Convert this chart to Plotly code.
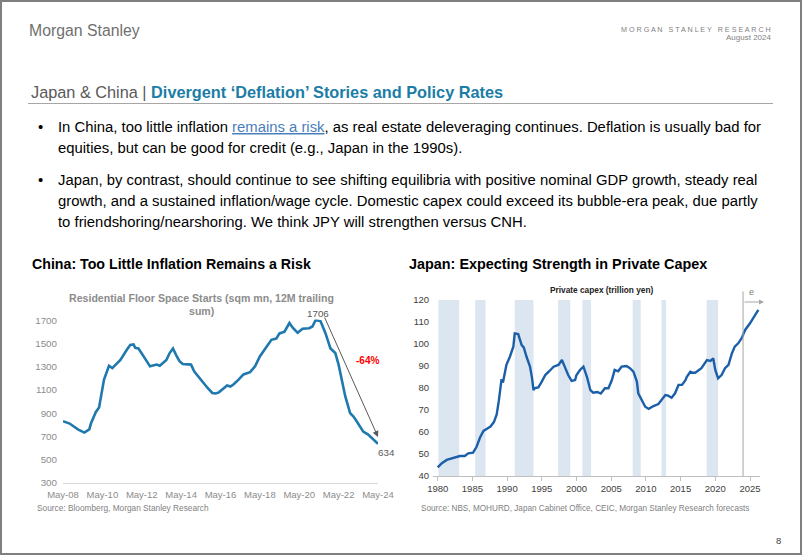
import plotly.graph_objects as go

W, H = 802, 555
def PX(x): return x / W
def PY(y): return 1 - y / H

# ---- China data: residential floor space starts (sqm mn, 12M trailing sum)
cn_dates = ["2008-05", "2008-09", "2009-02", "2009-06", "2009-09", "2009-10", "2010-01", "2010-03",
            "2010-06", "2010-09", "2010-11", "2011-04", "2011-08", "2011-10", "2011-12", "2012-01",
            "2012-03", "2012-06", "2012-08", "2012-10", "2012-12", "2013-02", "2013-04", "2013-06",
            "2013-08", "2013-10", "2013-12", "2014-02", "2014-04", "2014-06", "2014-09", "2014-11",
            "2015-01", "2015-04", "2015-07", "2015-09", "2015-12", "2016-02", "2016-04", "2016-06",
            "2016-09", "2016-11", "2017-01", "2017-04", "2017-07", "2017-11", "2018-02", "2018-05",
            "2018-09", "2018-12", "2019-03", "2019-05", "2019-08", "2019-11", "2020-01", "2020-04",
            "2020-07", "2020-11", "2021-01", "2021-03", "2021-06", "2021-09", "2021-12", "2022-03",
            "2022-05", "2022-08", "2022-09", "2022-12", "2023-02", "2023-04", "2023-08", "2023-11",
            "2024-02", "2024-05"]
cn_values = [830, 810, 760, 732, 760, 810, 910, 950,
             1190, 1310, 1290, 1360, 1450, 1490, 1495, 1465,
             1460, 1400, 1350, 1305, 1310, 1320, 1310, 1335,
             1360, 1420, 1460, 1400, 1350, 1325, 1325, 1320,
             1260, 1205, 1160, 1120, 1075, 1070, 1080, 1105,
             1140, 1130, 1150, 1190, 1235, 1255, 1305, 1390,
             1475, 1535, 1545, 1590, 1605, 1680, 1640, 1595,
             1630, 1635, 1650, 1706, 1695, 1590, 1460, 1420,
             1320, 1130, 1047, 900, 870, 830, 740, 715,
             670, 634]
cn_xticks = ["2008-05-01", "2010-05-01", "2012-05-01", "2014-05-01", "2016-05-01",
             "2018-05-01", "2020-05-01", "2022-05-01", "2024-05-01"]
cn_xlabels = ["May-08", "May-10", "May-12", "May-14", "May-16", "May-18", "May-20", "May-22", "May-24"]
cn_yticks = [300, 500, 700, 900, 1100, 1300, 1500, 1700]

# ---- Japan data: private capex (trillion yen)
jp_years = [1980.0, 1980.6, 1981.3, 1982.0, 1982.7, 1983.2, 1983.9, 1984.4, 1985.1, 1985.6,
            1986.1, 1986.6, 1987.1, 1987.6, 1988.1, 1988.5, 1988.8, 1989.0, 1989.2, 1989.4,
            1989.9, 1990.4, 1990.9, 1991.1, 1991.6, 1992.1, 1992.4, 1992.8, 1993.3, 1993.6,
            1993.8, 1994.0, 1994.5, 1995.0, 1995.5, 1996.0, 1996.7, 1997.4, 1997.9, 1998.3,
            1998.8, 1999.3, 1999.8, 2000.0, 2000.5, 2001.0, 2001.5, 2002.0, 2002.4, 2003.0,
            2003.5, 2004.1, 2004.6, 2005.1, 2005.5, 2006.0, 2006.5, 2007.2, 2007.7, 2008.2,
            2008.7, 2008.9, 2009.4, 2009.9, 2010.4, 2011.1, 2011.8, 2012.3, 2012.8, 2013.2,
            2013.7, 2014.2, 2014.7, 2015.2, 2015.7, 2015.9, 2016.4, 2016.8, 2017.1, 2018.0,
            2018.5, 2018.8, 2019.3, 2019.7, 2020.0, 2020.4, 2020.9, 2021.4, 2021.9, 2022.4,
            2022.8, 2023.3, 2023.8, 2024.3, 2025.0, 2025.7, 2026.2]
jp_values = [43.9, 45.8, 47.3, 48.0, 48.5, 49.1, 49.1, 50.3, 50.6, 53.3,
             57.5, 60.5, 61.5, 62.5, 64.5, 68.0, 74.0, 80.0, 84.0, 82.5,
             90.5, 94.2, 98.8, 104.8, 104.5, 99.5, 98.5, 94.2, 89.7, 84.4,
             79.0, 80.0, 80.3, 82.9, 85.9, 87.4, 89.7, 90.5, 92.7, 89.7,
             85.9, 83.2, 83.6, 85.9, 88.2, 89.7, 85.1, 79.0, 77.9, 78.2,
             77.5, 79.9, 79.9, 83.6, 88.2, 87.6, 89.7, 90.0, 89.0, 87.4,
             82.9, 77.6, 74.5, 71.5, 70.5, 71.8, 72.7, 74.5, 76.8, 76.5,
             75.6, 77.6, 81.4, 81.4, 83.6, 85.1, 87.4, 86.9, 86.9, 89.0,
             91.2, 92.7, 92.3, 93.5, 88.2, 84.4, 85.9, 89.0, 90.5, 95.8,
             98.8, 100.3, 102.6, 106.4, 109.4, 113.2, 115.5]
jp_recessions = [(1980.1, 1983.1), (1985.4, 1986.9), (1991.1, 1993.8), (1997.35, 1999.1),
                 (2000.85, 2002.1), (2008.1, 2009.25), (2012.25, 2012.9), (2018.75, 2020.4)]
jp_forecast_start = 2024.0
jp_xticks = [1980, 1985, 1990, 1995, 2000, 2005, 2010, 2015, 2020, 2025]
jp_yticks = [40, 50, 60, 70, 80, 90, 100, 110, 120]

FONT = "Liberation Sans"
GREY = "#8C8C8C"
DARK = "#404040"

fig = go.Figure()
fig.add_trace(go.Scatter(x=[d + "-01" for d in cn_dates], y=cn_values, mode="lines",
                         line=dict(color="#1F78AE", width=2.6), xaxis="x", yaxis="y",
                         hoverinfo="skip", showlegend=False))
fig.add_trace(go.Scatter(x=jp_years, y=jp_values, mode="lines",
                         line=dict(color="#1B5FA8", width=2.4), xaxis="x2", yaxis="y2",
                         hoverinfo="skip", showlegend=False))

ppu = (482.5 - 320.7) / 1400
y_top_left = 320.7 - 10 * ppu
ppy = (750 - 437.7) / 45
x2_left, x2_right = 433, 760
fig.update_layout(
    template="none",
    width=W, height=H, margin=dict(l=0, r=0, t=0, b=0, pad=0, autoexpand=False),
    paper_bgcolor="white", plot_bgcolor="rgba(0,0,0,0)", showlegend=False,
    font=dict(family=FONT),
    xaxis=dict(domain=[PX(63), PX(378)], type="date", range=["2008-05-01", "2024-05-01"],
               tickvals=cn_xticks, ticktext=cn_xlabels, tickangle=0, showgrid=False, zeroline=False,
               showline=True, linecolor="#D9D9D9", linewidth=1, ticks="", automargin=False,
               ticklabelstandoff=3,
               tickfont=dict(size=9.5, color=GREY, family=FONT), anchor="y"),
    yaxis=dict(domain=[PY(482.5), PY(y_top_left)], range=[300, 1710], tickvals=cn_yticks,
               showgrid=False, zeroline=False, showline=False, ticks="", automargin=False,
               tickfont=dict(size=9.8, color=GREY, family=FONT), anchor="x",
               ticklabelstandoff=5),
    xaxis2=dict(domain=[PX(x2_left), PX(x2_right)],
                range=[1980 + (x2_left - 437.7) / ppy, 1980 + (x2_right - 437.7) / ppy],
                tickvals=jp_xticks, tickangle=0, showgrid=False, zeroline=False, showline=True,
                linecolor="#BFBFBF", linewidth=1, ticks="outside", ticklen=4, tickcolor="#BFBFBF",
                automargin=False, tickfont=dict(size=9.5, color=DARK, family=FONT), anchor="y2"),
    yaxis2=dict(domain=[PY(476), PY(300)], range=[40, 120], tickvals=jp_yticks,
                showgrid=False, zeroline=False, showline=False, ticks="", automargin=False,
                tickfont=dict(size=9.5, color=DARK, family=FONT), anchor="x2",
                ticklabelstandoff=3),
)

shapes = []
for a, b in jp_recessions:
    shapes.append(dict(type="rect", xref="x2", yref="y2", x0=a, x1=b, y0=40, y1=120,
                       fillcolor="#DCE6F1", line=dict(width=0), layer="below"))
shapes.append(dict(type="line", xref="x2", yref="paper", x0=jp_forecast_start, x1=jp_forecast_start,
                   y0=PY(476), y1=PY(291.5), line=dict(color="#A6A6A6", width=1)))
shapes.append(dict(type="line", xref="paper", yref="paper", x0=PX(28), x1=PX(773),
                   y0=PY(103.5), y1=PY(103.5), line=dict(color="#A6A6A6", width=1.2)))
shapes.append(dict(type="rect", xref="paper", yref="paper", x0=PX(1), x1=PX(801),
                   y0=PY(554), y1=PY(1), line=dict(color="#7F7F7F", width=2)))
fig.update_layout(shapes=shapes)

ann = []
def txt(x, y, s, size, color="#000000", xanchor="left", bold=False, family=FONT):
    ann.append(dict(x=PX(x), y=PY(y), xref="paper", yref="paper", text=(f"<b>{s}</b>" if bold else s),
                    showarrow=False, xanchor=xanchor, yanchor="middle",
                    font=dict(size=size, color=color, family=family)))

txt(27, 31, "Morgan Stanley", 15.8, "#707070")
txt(773, 29, "M O R G A N   S T A N L E Y   R E S E A R C H", 7.2, "#7F7F7F", "right")
txt(773, 38, "August 2024", 8, "#7F7F7F", "right")
ann.append(dict(x=PX(29), y=PY(92), xref="paper", yref="paper", showarrow=False,
                xanchor="left", yanchor="middle",
                text="<span style='color:#595959'>Japan &amp; China | </span>"
                     "<b><span style='color:#1B7DA6'>Divergent ‘Deflation’ Stories and Policy Rates</span></b>",
                font=dict(size=16.3, family=FONT)))

BS = 14.85
txt(36, 127, "•", BS)
txt(56, 127, "In China, too little inflation <span style='color:#4A7EBB'><u>remains a risk</u></span>, as real estate deleveraging continues. Deflation is usually bad for", BS)
txt(56, 148, "equities, but can be good for credit (e.g., Japan in the 1990s).", BS)
txt(36, 180, "•", BS)
txt(56, 180, "Japan, by contrast, should continue to see shifting equilibria with positive nominal GDP growth, steady real", BS)
txt(56, 201, "growth, and a sustained inflation/wage cycle. Domestic capex could exceed its bubble-era peak, due partly", BS)
txt(56, 222, "to friendshoring/nearshoring. We think JPY will strengthen versus CNH.", BS)

txt(30, 264, "China: Too Little Inflation Remains a Risk", 14.2, "#000000", bold=True)
txt(407, 264, "Japan: Expecting Strength in Private Capex", 14.4, "#000000", bold=True)

txt(201, 298, "Residential Floor Space Starts (sqm mn, 12M trailing", 10.6, GREY, "center", bold=True)
txt(201, 311, "sum)", 10.6, GREY, "center", bold=True)
txt(602, 290, "Private capex (trillion yen)", 8.3, "#222222", "center", bold=True)

txt(318, 313, "1706", 9.8, "#595959", "center")
txt(367, 360, "-64%", 10, "#FF0000", "center", bold=True)
txt(386, 452, "634", 9.8, "#595959", "center")
txt(751, 292, "e", 9, "#808080", "center")

txt(35, 508, "Source: Bloomberg, Morgan Stanley Research", 8.3, "#7F7F7F")
txt(419, 508, "Source: NBS, MOHURD, Japan Cabinet Office, CEIC, Morgan Stanley Research forecasts", 8.2, "#7F7F7F")
txt(778, 540, "8", 9.5, "#404040", "center")

ann.append(dict(x=PX(378), y=PY(437), ax=-54, ay=-121, xref="paper", yref="paper",
                text="", showarrow=True, arrowhead=2,
                arrowsize=1.2, arrowwidth=1, arrowcolor="#595959"))
ann.append(dict(x=PX(764), y=PY(302), ax=-21, ay=0, xref="paper", yref="paper",
                text="", showarrow=True, arrowhead=2,
                arrowsize=1, arrowwidth=1, arrowcolor="#A6A6A6"))
fig.update_layout(annotations=ann)

fig.write_html("out.html", config={"displayModeBar": False},
               post_script="document.body.style.margin='0';document.body.style.padding='0';"
                           "document.body.style.overflow='hidden';")
